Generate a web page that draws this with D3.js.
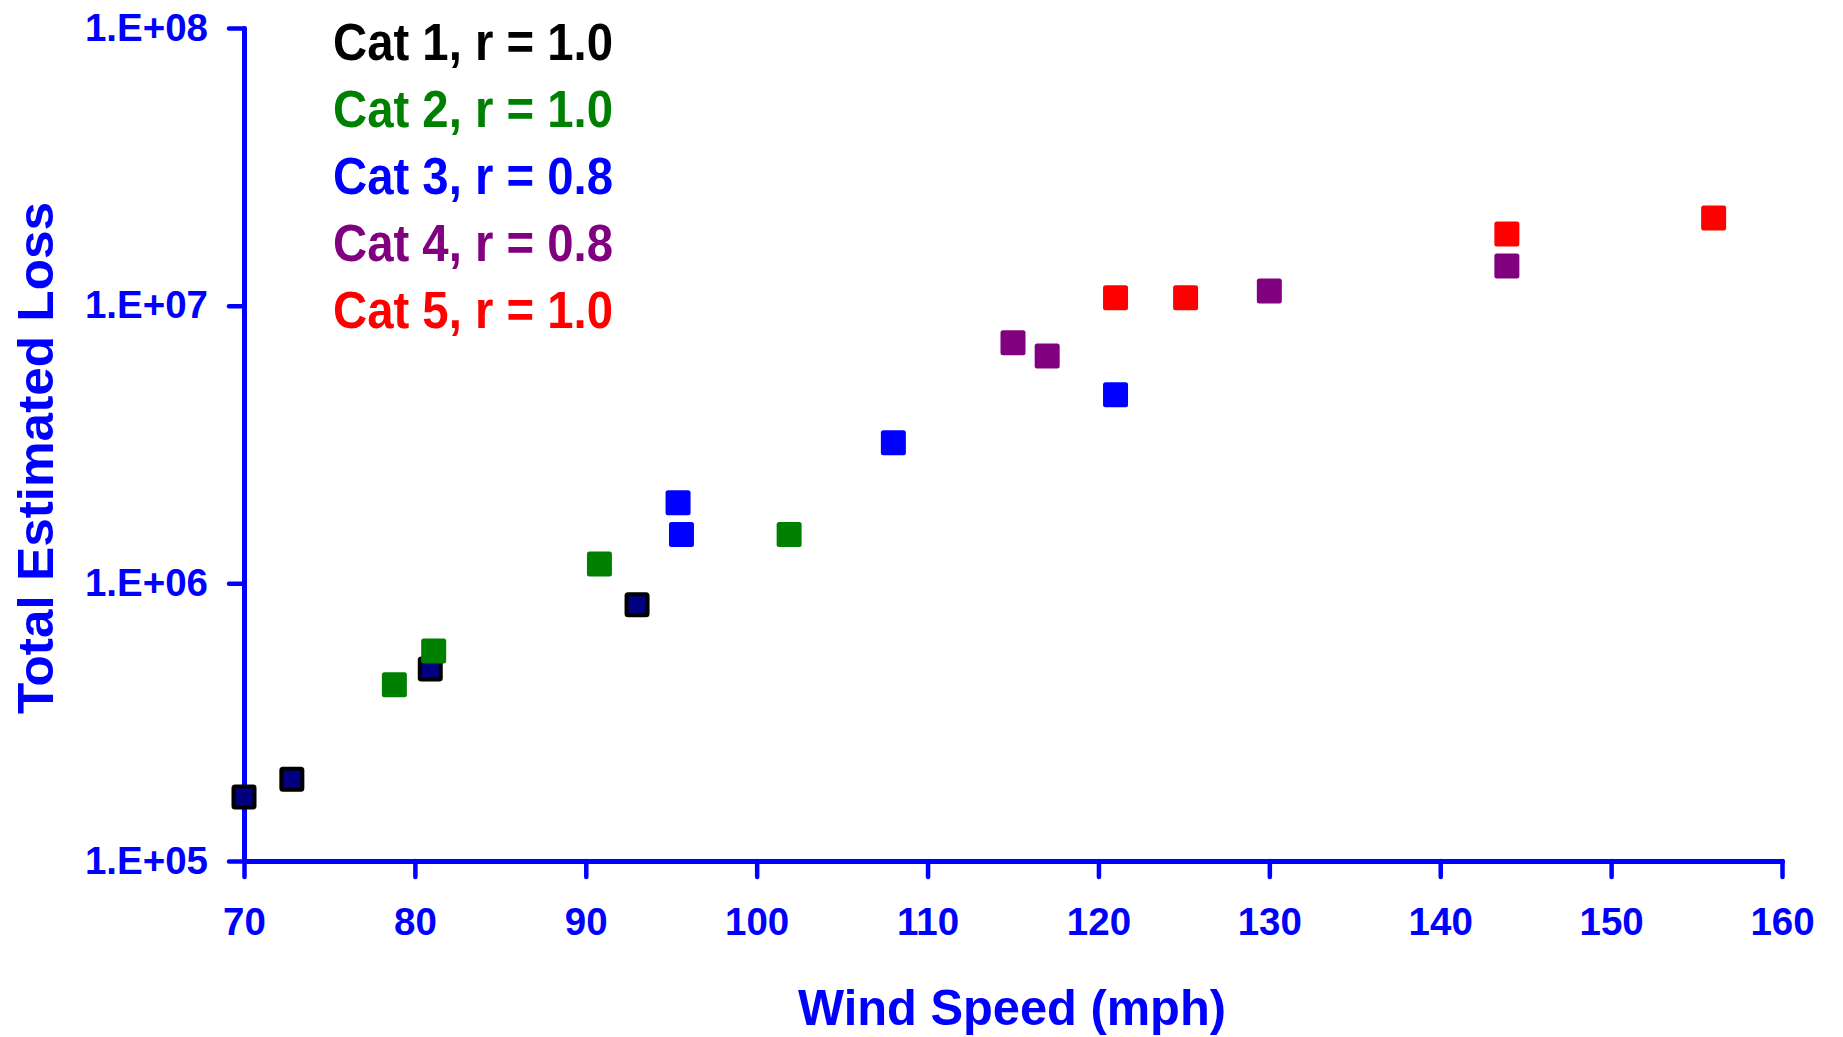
<!DOCTYPE html>
<html>
<head>
<meta charset="utf-8">
<script src="https://cdn.jsdelivr.net/npm/d3@7"></script>
<style>
  html, body { margin: 0; padding: 0; background: #fff; }
  svg { display: block; font-family: "Liberation Sans", Arial, sans-serif; font-weight: bold; }
</style>
</head>
<body>
<svg id="chart" width="1843" height="1037"></svg>
<script>
// ---- data ----
const categories = ["Cat 1, r = 1.0", "Cat 2, r = 1.0", "Cat 3, r = 0.8", "Cat 4, r = 0.8", "Cat 5, r = 1.0"];
const cat1Speed = [70, 72.8, 80.9, 93.0];
const cat1Loss  = [1.70e5, 1.97e5, 4.91e5, 8.38e5];
const cat2Speed = [78.8, 81.1, 90.8, 101.9];
const cat2Loss  = [4.31e5, 5.70e5, 1.175e6, 1.50e6];
const cat3Speed = [95.4, 95.6, 108.0, 121.0];
const cat3Loss  = [1.95e6, 1.50e6, 3.21e6, 4.78e6];
const cat4Speed = [115.0, 117.0, 130.0, 143.9];
const cat4Loss  = [7.35e6, 6.59e6, 1.13e7, 1.39e7];
const cat5Speed = [121.0, 125.1, 143.9, 156.0];
const cat5Loss  = [1.067e7, 1.067e7, 1.81e7, 2.07e7];
const xTicks = [70, 80, 90, 100, 110, 120, 130, 140, 150, 160];
const yTicks = [1e5, 1e6, 1e7, 1e8];
const yTickLabels = ["1.E+05", "1.E+06", "1.E+07", "1.E+08"];

// ---- styling ----
const colors = ["#000000", "#008000", "#0000FF", "#800080", "#FF0000"];
const fills  = ["#000080", "#008000", "#0000FF", "#800080", "#FF0000"];
const axisColor = "#0000FF";

const svg = d3.select("#chart");
const x = d3.scaleLinear().domain([70, 160]).range([244, 1782]);
const y = d3.scaleLog().domain([1e5, 1e8]).range([861, 28]);

const series = [
  {speed: cat1Speed, loss: cat1Loss},
  {speed: cat2Speed, loss: cat2Loss},
  {speed: cat3Speed, loss: cat3Loss},
  {speed: cat4Speed, loss: cat4Loss},
  {speed: cat5Speed, loss: cat5Loss}
];

// axes
const xAxis = d3.axisBottom(x).tickValues(xTicks).tickFormat(d3.format("d"))
  .tickSize(16).tickSizeOuter(0).tickPadding(31);
const yAxis = d3.axisLeft(y).tickValues(yTicks)
  .tickFormat((d, i) => yTickLabels[i]).tickSize(15).tickSizeOuter(0).tickPadding(21);

const gx = svg.append("g").attr("transform", "translate(0,861)").call(xAxis);
const gy = svg.append("g").attr("transform", "translate(244,0)").call(yAxis);

[gx, gy].forEach(g => {
  g.selectAll(".domain").attr("stroke", axisColor).attr("stroke-width", 5).attr("stroke-linecap", "round");
  g.selectAll(".tick line").attr("stroke", axisColor).attr("stroke-width", 4.5).attr("stroke-linecap", "round");
  g.selectAll(".tick text").attr("fill", axisColor).attr("font-size", 38.5)
    .attr("font-family", "'Liberation Sans', Arial, sans-serif").attr("font-weight", "bold");
});
gx.selectAll(".tick text").attr("dy", "0.71em");

// axis titles
svg.append("text").attr("x", 1012).attr("y", 1025).attr("text-anchor", "middle")
  .attr("fill", axisColor).attr("font-size", 50)
  .attr("textLength", 428).attr("lengthAdjust", "spacingAndGlyphs")
  .text("Wind Speed (mph)");
svg.append("text").attr("transform", "translate(53,458) rotate(-90)").attr("text-anchor", "middle")
  .attr("fill", axisColor).attr("font-size", 50)
  .attr("textLength", 512).attr("lengthAdjust", "spacingAndGlyphs")
  .text("Total Estimated Loss");

// markers
series.forEach((s, i) => {
  const pts = s.speed.map((v, j) => [v, s.loss[j]]);
  const g = svg.append("g");
  if (i === 0) {
    g.selectAll("rect").data(pts).join("rect")
      .attr("x", d => x(d[0]) - 10.5).attr("y", d => y(d[1]) - 10.5)
      .attr("width", 21).attr("height", 21).attr("rx", 1.5)
      .attr("fill", fills[i]).attr("stroke", "#000").attr("stroke-width", 4);
  } else {
    g.selectAll("rect").data(pts).join("rect")
      .attr("x", d => x(d[0]) - 12.5).attr("y", d => y(d[1]) - 12.5)
      .attr("width", 25).attr("height", 25).attr("rx", 2.5)
      .attr("fill", fills[i]);
  }
});

// legend text
svg.append("g").selectAll("text").data(categories).join("text")
  .attr("x", 333).attr("y", (d, i) => 60 + i * 67)
  .attr("fill", (d, i) => colors[i]).attr("font-size", 51)
  .attr("textLength", 280).attr("lengthAdjust", "spacingAndGlyphs")
  .text(d => d);
</script>
</body>
</html>
